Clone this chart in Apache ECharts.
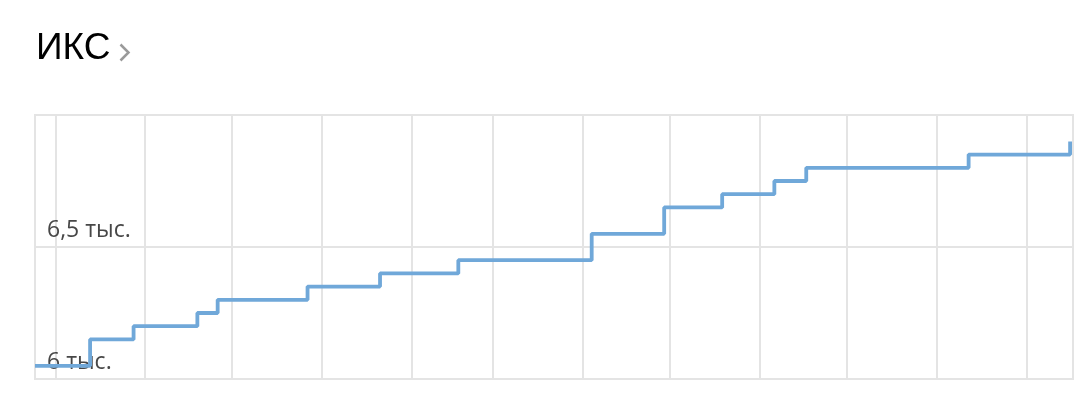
<!DOCTYPE html>
<html>
<head>
<meta charset="utf-8">
<title>ИКС</title>
<script src="https://cdn.jsdelivr.net/npm/echarts@6/dist/echarts.min.js"></script>
<style>
  html, body { margin: 0; padding: 0; background: #fff; }
  #chart { width: 1092px; height: 414px; }
</style>
</head>
<body>
<div id="chart"></div>
<script>
// даты изменения ИКС и значения (значение держится до следующей даты)
const changeDates = [
  '2022-09-24', '2022-10-13', '2022-10-28', '2022-11-19', '2022-11-26',
  '2022-12-27', '2023-01-21', '2023-02-17', '2023-04-04', '2023-04-29',
  '2023-05-19', '2023-06-06', '2023-06-17', '2023-08-12', '2023-09-16'
]
const iksValues = [
  6050, 6150, 6200, 6250, 6300,
  6350, 6400, 6450, 6550, 6650,
  6700, 6750, 6800, 6850, 6900
]
const rangeStart = '2022-09-24'
const rangeEnd = '2023-09-17'
const yMin = 6000
const yMax = 7000
const yStep = 500

const chart = echarts.init(document.getElementById('chart'))

const formatThousands = (v) => {
  const k = v / 1000
  return String(k).replace('.', ',') + ' тыс.'
}

const option = {
  backgroundColor: '#fff',
  animation: false,
  title: {
    text: 'ИКС',
    left: 36,
    top: 30,
    padding: 0,
    textStyle: {
      fontFamily: 'Liberation Sans',
      fontSize: 37,
      fontWeight: 'normal',
      color: '#000'
    }
  },
  graphic: [{
    // стрелка-шеврон после заголовка
    type: 'polyline',
    left: 118,
    top: 42,
    shape: { points: [[0, 0], [8, 8], [0, 16]] },
    style: { stroke: '#9a9a9a', lineWidth: 2.5, fill: null }
  }],
  grid: {
    left: 35,
    right: 19,
    top: 115,
    bottom: 35,
    show: true,
    borderColor: '#e4e4e4',
    borderWidth: 2,
    backgroundColor: 'transparent'
  },
  xAxis: {
    type: 'time',
    min: rangeStart,
    max: rangeEnd,
    splitNumber: 12,
    axisLine: { show: false },
    axisTick: { show: false },
    axisLabel: { show: false },
    splitLine: { show: true, lineStyle: { color: '#e4e4e4', width: 2 } }
  },
  yAxis: {
    type: 'value',
    min: yMin,
    max: yMax,
    interval: yStep,
    axisLine: { show: false },
    axisTick: { show: false },
    splitLine: { show: true, lineStyle: { color: '#e4e4e4', width: 2 } },
    axisLabel: {
      inside: true,
      margin: 12,
      showMaxLabel: false,
      verticalAlign: 'bottom',
      padding: [0, 0, 5, 0],
      fontFamily: 'Open Sans',
      fontSize: 23,
      color: '#474747',
      formatter: formatThousands
    }
  },
  series: [{
    type: 'line',
    step: 'end',
    symbol: 'none',
    z: 1,
    lineStyle: { color: '#70a8d9', width: 3.8 },
    data: changeDates.map((d, i) => [d, iksValues[i]])
  }]
}

chart.setOption(option)
</script>
</body>
</html>
